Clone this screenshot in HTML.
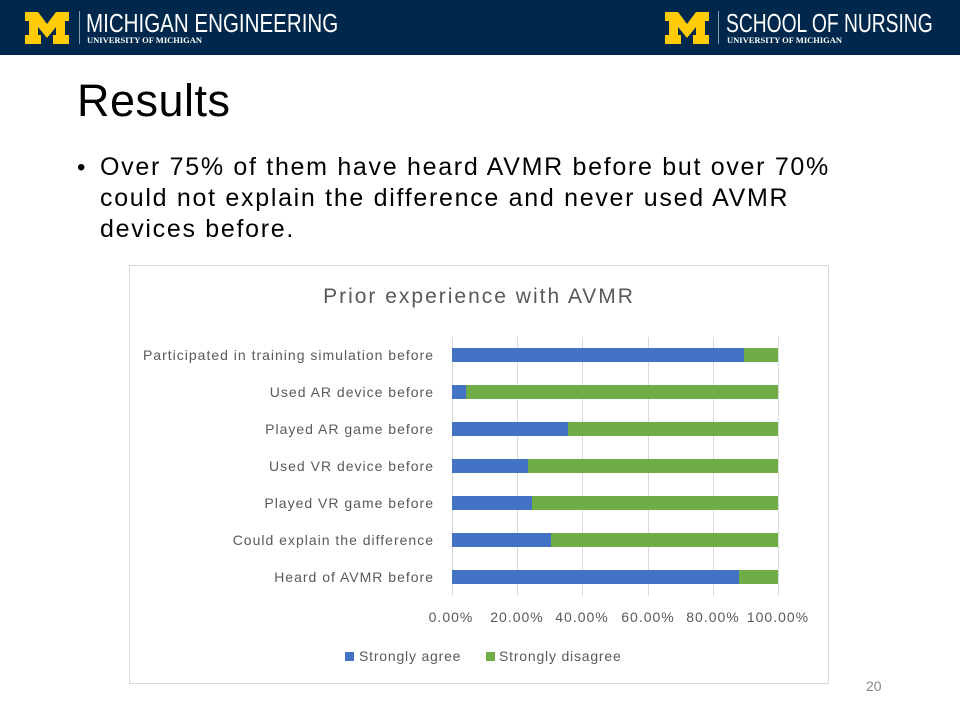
<!DOCTYPE html>
<html><head><meta charset="utf-8"><style>
*{margin:0;padding:0}
body{width:960px;height:720px;position:relative;background:#fff;font-family:"Liberation Sans",sans-serif;overflow:hidden}
.hdr{position:absolute;left:0;top:0;width:960px;height:55px;background:#00274c}
.a{position:absolute}
.big{color:#fff;font-size:26px;line-height:26px;transform-origin:0 0;white-space:nowrap}
.small{color:#fff;font-family:"Liberation Serif",serif;font-weight:bold;font-size:8.5px;white-space:nowrap}
.lbl{position:absolute;right:526px;font-size:14px;color:#595959;white-space:nowrap;line-height:16px;letter-spacing:1px}
.tick{position:absolute;top:609px;width:90px;text-align:center;font-size:14px;color:#595959;white-space:nowrap;letter-spacing:1px}
</style></head><body>
<div class="hdr"></div>
<svg class="a" style="left:25px;top:12px" width="44" height="32" viewBox="0 0 44 32"><path d="M0 0H13L22 12L31 0H44V9H40V23H44V32H28V23H31V15L22 26L13 15V23H16V32H0V23H4V9H0Z" fill="#ffcb05"/></svg>
<div class="a" style="left:79px;top:11px;width:1px;height:33px;background:#8a9bb0"></div>
<div class="a big" style="left:86px;top:10px;transform:scaleX(0.79)">MICHIGAN ENGINEERING</div>
<div class="a small" style="left:87px;top:35px">UNIVERSITY OF MICHIGAN</div>
<svg class="a" style="left:665px;top:12px" width="44" height="32" viewBox="0 0 44 32"><path d="M0 0H13L22 12L31 0H44V9H40V23H44V32H28V23H31V15L22 26L13 15V23H16V32H0V23H4V9H0Z" fill="#ffcb05"/></svg>
<div class="a" style="left:718px;top:11px;width:1px;height:33px;background:#8a9bb0"></div>
<div class="a big" style="left:726px;top:10px;transform:scaleX(0.74)">SCHOOL OF NURSING</div>
<div class="a small" style="left:727px;top:35px">UNIVERSITY OF MICHIGAN</div>

<div class="a" style="left:77px;top:75px;font-size:45px;color:#000;line-height:52px;letter-spacing:0.5px">Results</div>
<div class="a" style="left:77px;top:152px;font-size:24px;line-height:31px;color:#000">•</div>
<div class="a" style="left:100px;top:152px;width:850px;font-size:25px;line-height:31px;color:#000;letter-spacing:1.7px;white-space:nowrap">Over 75% of them have heard AVMR before but over 70%<br>could not explain the difference and never used AVMR<br>devices before.</div>

<div class="a" style="left:129px;top:265px;width:700px;height:419px;border:1px solid #d9d9d9;box-sizing:border-box"></div>
<div class="a" style="left:129px;top:285px;width:700px;text-align:center;font-size:21px;color:#595959;letter-spacing:2px">Prior experience with AVMR</div>

<svg class="a" style="left:0;top:0" width="960" height="720">
<g stroke="#d9d9d9" stroke-width="1">
<line x1="452.5" y1="337" x2="452.5" y2="596"/><line x1="517.5" y1="337" x2="517.5" y2="596"/><line x1="582.5" y1="337" x2="582.5" y2="596"/><line x1="648.5" y1="337" x2="648.5" y2="596"/><line x1="713.5" y1="337" x2="713.5" y2="596"/><line x1="778.5" y1="337" x2="778.5" y2="596"/>
</g>
<g>
<rect x="452" y="348" width="292" height="14" fill="#4472c4"/><rect x="744" y="348" width="34" height="14" fill="#70ad47"/>
<rect x="452" y="385" width="14" height="14" fill="#4472c4"/><rect x="466" y="385" width="312" height="14" fill="#70ad47"/>
<rect x="452" y="422" width="116" height="14" fill="#4472c4"/><rect x="568" y="422" width="210" height="14" fill="#70ad47"/>
<rect x="452" y="459" width="76" height="14" fill="#4472c4"/><rect x="528" y="459" width="250" height="14" fill="#70ad47"/>
<rect x="452" y="496" width="80" height="14" fill="#4472c4"/><rect x="532" y="496" width="246" height="14" fill="#70ad47"/>
<rect x="452" y="533" width="99" height="14" fill="#4472c4"/><rect x="551" y="533" width="227" height="14" fill="#70ad47"/>
<rect x="452" y="570" width="287" height="14" fill="#4472c4"/><rect x="739" y="570" width="39" height="14" fill="#70ad47"/>
</g>
<rect x="345" y="652" width="9" height="9" fill="#4472c4"/>
<rect x="486" y="652" width="9" height="9" fill="#70ad47"/>
</svg>
<div class="lbl" style="top:347px">Participated in training simulation before</div>
<div class="lbl" style="top:384px">Used AR device before</div>
<div class="lbl" style="top:421px">Played AR game before</div>
<div class="lbl" style="top:458px">Used VR device before</div>
<div class="lbl" style="top:495px">Played VR game before</div>
<div class="lbl" style="top:532px">Could explain the difference</div>
<div class="lbl" style="top:569px">Heard of AVMR before</div>
<div class="tick" style="left:406px">0.00%</div>
<div class="tick" style="left:472px">20.00%</div>
<div class="tick" style="left:537px">40.00%</div>
<div class="tick" style="left:603px">60.00%</div>
<div class="tick" style="left:668px">80.00%</div>
<div class="tick" style="left:733px">100.00%</div>
<div class="a" style="left:359px;top:648px;font-size:14px;color:#595959;letter-spacing:0.8px">Strongly agree</div>
<div class="a" style="left:499px;top:648px;font-size:14px;color:#595959;letter-spacing:0.8px">Strongly disagree</div>
<div class="a" style="left:866px;top:678px;font-size:14px;color:#898989">20</div>
</body></html>
